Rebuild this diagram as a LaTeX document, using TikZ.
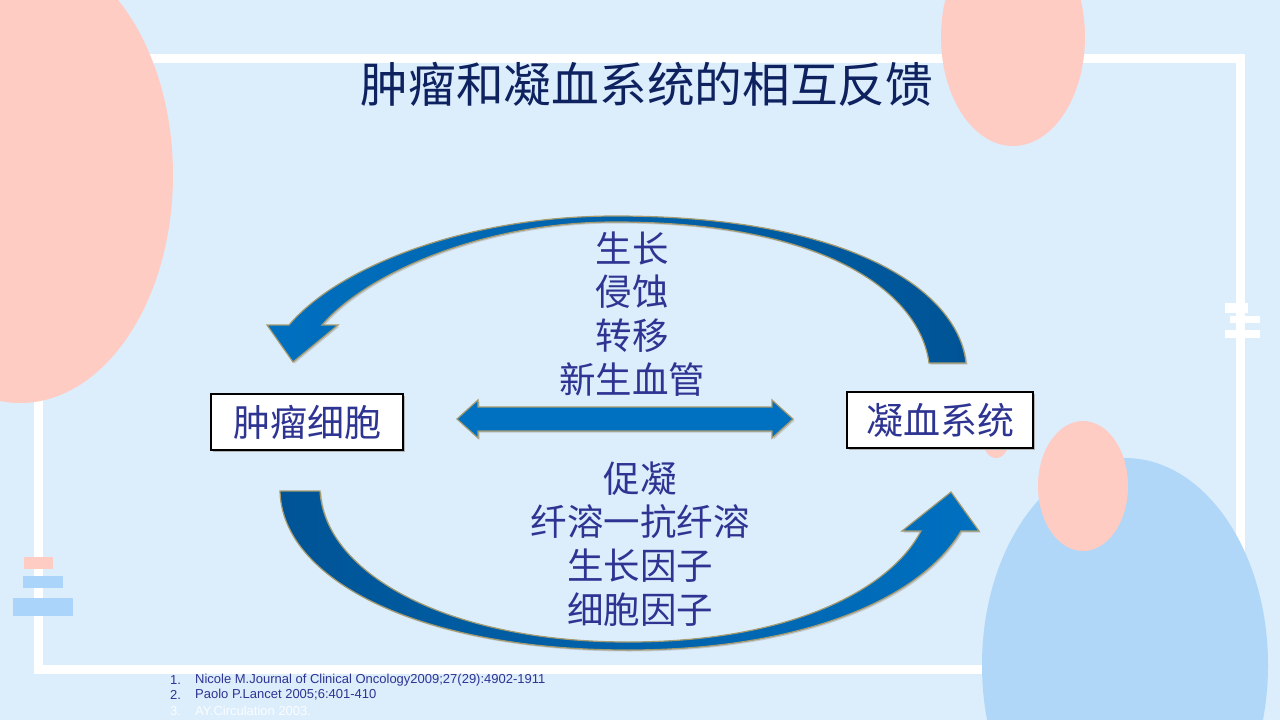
\documentclass[tikz,border=0pt]{standalone}
\usepackage{fontspec}
\setmainfont{Liberation Sans}
\newfontfamily\cjk{Noto Sans CJK SC}
\definecolor{bgc}{RGB}{220,237,252}
\definecolor{pinkc}{RGB}{255,204,196}
\definecolor{bluec}{RGB}{176,214,248}
\definecolor{barblue}{RGB}{170,212,250}
\definecolor{titlec}{RGB}{14,34,96}
\definecolor{textc}{RGB}{46,52,146}
\definecolor{arrlight}{RGB}{0,112,192}
\definecolor{arrdark}{RGB}{0,84,150}
\definecolor{edgec}{RGB}{165,155,110}
\tikzset{
  arrowshape/.style={draw=edgec, line width=1.2pt,
    preaction={fill=black!35, opacity=0.5, transform canvas={shift={(1.5pt,-1.5pt)}}}},
  labelbox/.style={draw=black, line width=2.8pt, fill=white, minimum width=#1, minimum height=56pt,
    inner sep=0pt, font=\cjk\fontsize{37}{40}\selectfont, text=textc,
    preaction={fill=black!30, transform canvas={shift={(2pt,-2pt)}}}},
  midtext/.style={font=\cjk\fontsize{36.5}{43.8}\selectfont, text=textc, align=center, inner sep=0pt},
  reftext/.style={font=\fontsize{13}{15}\selectfont, anchor=west, inner sep=0pt}
}
\begin{document}
\begin{tikzpicture}[x=1pt,y=-1pt]
\useasboundingbox (0,0) rectangle (1280,720);
\clip (0,0) rectangle (1280,720);
\fill[bgc] (0,0) rectangle (1280,720);
% frame
\draw[white, line width=9pt] (38,669) -- (38,58) -- (1240,58) -- (1240,669) -- cycle;
% right ticks
\fill[white] (1225,303) rectangle (1248,313);
\fill[white] (1230,316) rectangle (1260,323);
\fill[white] (1225,330) rectangle (1260,338);
% left bars
\fill[pinkc] (24,557) rectangle (53,569);
\fill[barblue] (23,576) rectangle (63,588);
\fill[barblue] (13,598) rectangle (73,616);
% ellipses
\fill[pinkc] (20,175) ellipse [x radius=153pt, y radius=228pt];
\fill[pinkc] (1013,37) ellipse [x radius=72pt, y radius=109pt];
\fill[bluec] (1125,665) ellipse [x radius=143pt, y radius=207pt];
\fill[pinkc] (1083,486) ellipse [x radius=45pt, y radius=65pt];
\fill[pinkc] (996,440) ellipse [x radius=13pt, y radius=18pt];
% title
\node[font=\cjk\fontsize{47.7}{50}\selectfont, text=titlec, inner sep=0pt] (title) at (647,84) {肿瘤和凝血系统的相互反馈};
% upper curved arrow (coagulation -> tumour)
\path[arrowshape, left color=arrlight, right color=arrdark]
  (966,363) .. controls (958,290) and (850,216) .. (615,216)
  .. controls (470,216) and (340,265) .. (289,325)
  -- (267,325) -- (293,362) -- (338,325) -- (322,325)
  .. controls (365,275) and (480,222) .. (615,222)
  .. controls (830,222) and (920,295) .. (929,363) -- cycle;
% lower curved arrow (tumour -> coagulation)
\path[arrowshape, left color=arrdark, right color=arrlight]
  (280,491) .. controls (282,580) and (420,650) .. (628,650)
  .. controls (800,650) and (920,600) .. (961,531)
  -- (979,531) -- (951,492) -- (902,531) -- (921,531)
  .. controls (890,590) and (790,642) .. (628,642)
  .. controls (450,642) and (325,575) .. (320,491) -- cycle;
% double arrow
\path[arrowshape, fill=arrlight]
  (457,419) -- (478,400) -- (478,407) -- (772,407) -- (772,400) -- (793,419)
  -- (772,438) -- (772,431) -- (478,431) -- (478,438) -- cycle;
% boxes
\node[labelbox=192pt] (tumor) at (307,422) {肿瘤细胞};
\node[labelbox=186pt] (coag) at (940,420) {凝血系统};
% labels
\node[midtext] (upper) at (632,314) {生长\\侵蚀\\转移\\新生血管};
\node[midtext] (lower) at (640,544) {促凝\\纤溶一抗纤溶\\生长因子\\细胞因子};
% references
\node[reftext, text=textc] (n1) at (170,680) {1.};
\node[reftext, text=textc] (r1) at (195,680) {Nicole M.Journal of Clinical Oncology2009;27(29):4902-1911};
\node[reftext, text=textc] (n2) at (170,695) {2.};
\node[reftext, text=textc] (r2) at (195,695) {Paolo P.Lancet 2005;6:401-410};
\node[reftext, text=white!90!bgc] (n3) at (170,711) {3.};
\node[reftext, text=white!90!bgc] (r3) at (195,711) {AY.Circulation 2003.};
\end{tikzpicture}
\end{document}
